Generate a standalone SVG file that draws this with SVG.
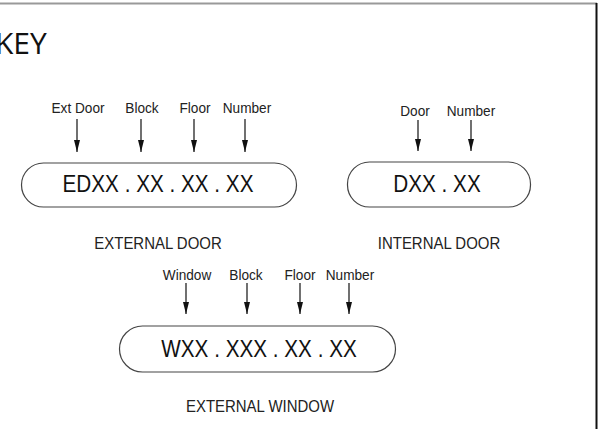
<svg xmlns="http://www.w3.org/2000/svg" width="605" height="429" viewBox="0 0 605 429">
<defs>
<marker id="ah" viewBox="0 0 12 6" refX="12" refY="3" markerWidth="12" markerHeight="6" markerUnits="userSpaceOnUse" orient="auto">
<path d="M0,0 L12,3 L0,6 Z" fill="#111"/>
</marker>
<style>
.lbl{font-family:"Liberation Sans",Arial,sans-serif;font-size:15.5px;fill:#222;text-anchor:middle}
.code{font-family:"Liberation Sans",Arial,sans-serif;font-size:23px;fill:#111;text-anchor:middle}
.cap{font-family:"Liberation Sans",Arial,sans-serif;font-size:17px;fill:#222;text-anchor:middle}
.pill{fill:#fff;stroke:#444;stroke-width:1.2}
.arr{stroke:#111;stroke-width:1.2;fill:none}
</style>
</defs>
<rect width="605" height="429" fill="#fff"/>
<line x1="0" y1="3.5" x2="597" y2="3.5" stroke="#999" stroke-width="2"/>
<line x1="596.5" y1="3" x2="596.5" y2="429" stroke="#111" stroke-width="2"/>
<text x="-5" y="54" font-family="Open Sans, sans-serif" font-size="30" fill="#111">KEY</text>

<g id="external-door">
<rect class="pill" x="21.5" y="163" width="275" height="44" rx="22" ry="22"/>
<text class="code" transform="translate(158,192) scale(0.9,1)">EDXX . XX . XX . XX</text>
<text class="lbl" transform="translate(78,113) scale(0.88,1)">Ext Door</text>
<text class="lbl" transform="translate(142,113) scale(0.88,1)">Block</text>
<text class="lbl" transform="translate(195,113) scale(0.88,1)">Floor</text>
<text class="lbl" transform="translate(247,113) scale(0.88,1)">Number</text>
<text class="cap" transform="translate(158,249) scale(0.88,1)">EXTERNAL DOOR</text>
</g>

<g id="internal-door">
<rect class="pill" x="347.5" y="162" width="183" height="45" rx="22" ry="22"/>
<text class="code" transform="translate(437,192) scale(0.9,1)">DXX . XX</text>
<text class="lbl" transform="translate(415,116) scale(0.88,1)">Door</text>
<text class="lbl" transform="translate(471,116) scale(0.88,1)">Number</text>
<text class="cap" transform="translate(439,249) scale(0.88,1)">INTERNAL DOOR</text>
</g>

<g id="external-window">
<rect class="pill" x="119.5" y="326" width="276" height="46" rx="23" ry="23"/>
<text class="code" transform="translate(259,357) scale(0.9,1)" font-size="24">WXX . XXX . XX . XX</text>
<text class="lbl" transform="translate(187,280) scale(0.88,1)">Window</text>
<text class="lbl" transform="translate(246,280) scale(0.88,1)">Block</text>
<text class="lbl" transform="translate(300,280) scale(0.88,1)">Floor</text>
<text class="lbl" transform="translate(350,280) scale(0.88,1)">Number</text>
<text class="cap" transform="translate(260,412) scale(0.88,1)">EXTERNAL WINDOW</text>
</g>

<g id="connectors">
<line class="arr" x1="77" y1="119" x2="77" y2="152" marker-end="url(#ah)"/>
<line class="arr" x1="141" y1="119" x2="141" y2="152" marker-end="url(#ah)"/>
<line class="arr" x1="194" y1="119" x2="194" y2="152" marker-end="url(#ah)"/>
<line class="arr" x1="245" y1="119" x2="245" y2="152" marker-end="url(#ah)"/>
<line class="arr" x1="418" y1="120" x2="418" y2="151" marker-end="url(#ah)"/>
<line class="arr" x1="471" y1="120" x2="471" y2="151" marker-end="url(#ah)"/>
<line class="arr" x1="186" y1="283" x2="186" y2="314" marker-end="url(#ah)"/>
<line class="arr" x1="247" y1="283" x2="247" y2="314" marker-end="url(#ah)"/>
<line class="arr" x1="300" y1="283" x2="300" y2="314" marker-end="url(#ah)"/>
<line class="arr" x1="349" y1="283" x2="349" y2="314" marker-end="url(#ah)"/>
</g>
</svg>
